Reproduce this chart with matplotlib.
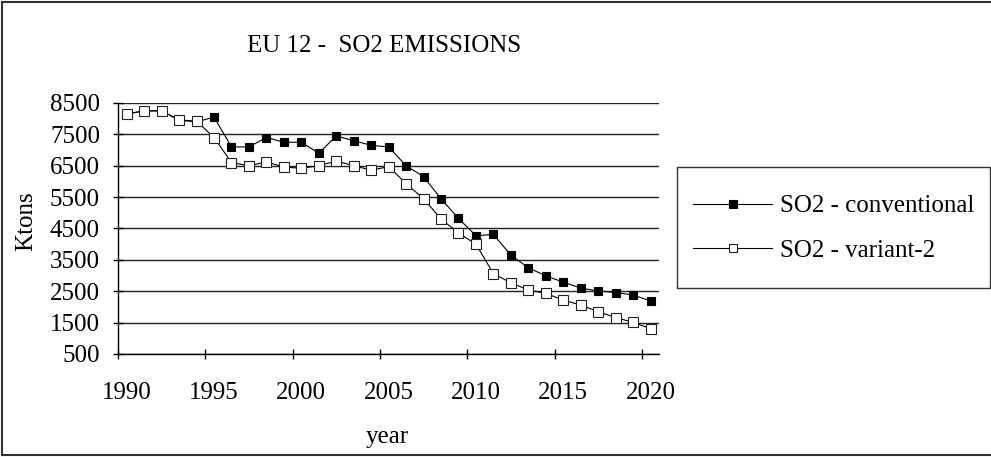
import matplotlib
matplotlib.use("Agg")
import matplotlib.pyplot as plt
from matplotlib.patches import Rectangle
from matplotlib.lines import Line2D

plt.rcParams['font.family'] = ['Liberation Serif', 'DejaVu Serif']

years = list(range(1990, 2021))
so2_conventional = [8150, 8250, 8250, 7950, 7900, 8050, 7100, 7100, 7400, 7250,
                    7250, 6900, 7450, 7300, 7150, 7100, 6500, 6150, 5450, 4820,
                    4270, 4310, 3650, 3250, 2990, 2790, 2600, 2510, 2460, 2380, 2190]
so2_variant2 = [8150, 8250, 8250, 7960, 7920, 7400, 6600, 6500, 6620, 6460,
                6420, 6500, 6650, 6500, 6360, 6470, 5930, 5450, 4800, 4360,
                4000, 3060, 2770, 2540, 2430, 2220, 2060, 1850, 1660, 1510, 1310]
series_labels = ["SO2 - conventional", "SO2 - variant-2"]
title = "EU 12 -  SO2 EMISSIONS"
ytick_values = list(range(500, 8501, 1000))
xtick_labels = ["1990", "1995", "2000", "2005", "2010", "2015", "2020"]

FS = 18
W, H = 991, 457
fig = plt.figure(figsize=(W / 100, H / 100), dpi=100)
ax = fig.add_axes([118 / W, 1 - 354 / H, (659.3 - 118) / W, 251 / H])

l1, = ax.plot(years, so2_conventional, color='black', lw=0.8, marker='s',
              ms=5.4, mfc='black', mec='black', mew=0.8, zorder=3)
l2, = ax.plot(years, so2_variant2, color='black', lw=0.8, marker='s',
              ms=7.0, mfc='white', mec='#222222', mew=0.8, zorder=4)

ax.set_xlim(1989.5, 2020.5)
ax.set_ylim(500, 8500)
ax.set_yticks(ytick_values)
ax.set_yticklabels([str(v) for v in ytick_values])
major_x = [1989.5 + 5 * k for k in range(7)]
ax.set_xticks(major_x)
ax.set_xticklabels([''] * len(major_x))
label_x = [int(s) for s in xtick_labels]
ax.set_xticks(label_x, minor=True)
ax.set_xticklabels(xtick_labels, minor=True)

ax.tick_params(axis='both', which='major', direction='inout', length=7.2, width=1, color='black')
ax.tick_params(axis='y', labelsize=FS, pad=9.4)
ax.tick_params(axis='x', which='minor', length=0, labelsize=FS, pad=20)

ax.yaxis.grid(True, color='#222222', lw=1)
ax.set_axisbelow(True)
for s in ['top', 'right']:
    ax.spines[s].set_visible(False)
for s in ['left', 'bottom']:
    ax.spines[s].set_color('black')
    ax.spines[s].set_linewidth(1)

fig.text(384 / W, 1 - 52 / H, title, ha='center', va='baseline', fontsize=FS)
fig.text(387 / W, 1 - 443 / H, "year", ha='center', va='baseline', fontsize=FS)
fig.text(26 / W, 1 - 221 / H, "Ktons", ha='center', va='center', rotation=90, fontsize=FS)

leg = fig.legend([l1, l2], series_labels, loc='upper left',
                 bbox_to_anchor=(693 / W, 1 - 195 / H), frameon=False,
                 fontsize=FS, handlelength=3.16, handletextpad=0.32,
                 labelspacing=0.88, borderpad=0, borderaxespad=0)
for h in leg.legend_handles:
    h.set_markersize(5.8)

fig.patches.append(Rectangle((677 / W, 1 - 288 / H), (990 - 677) / W, (288 - 167) / H,
                             transform=fig.transFigure, fill=False, ec='#333333', lw=1))
# outer chart border (left, top, bottom)
fig.lines.append(Line2D([2 / W, 2 / W], [1 - 455 / H, 1 - 1.5 / H], transform=fig.transFigure, color='#333333', lw=1.5))
fig.lines.append(Line2D([2 / W, 1], [1 - 1.5 / H, 1 - 1.5 / H], transform=fig.transFigure, color='#333333', lw=1.5))
fig.lines.append(Line2D([2 / W, 1], [1 - 455 / H, 1 - 455 / H], transform=fig.transFigure, color='#333333', lw=1.5))

fig.savefig("out.png", dpi=100)
